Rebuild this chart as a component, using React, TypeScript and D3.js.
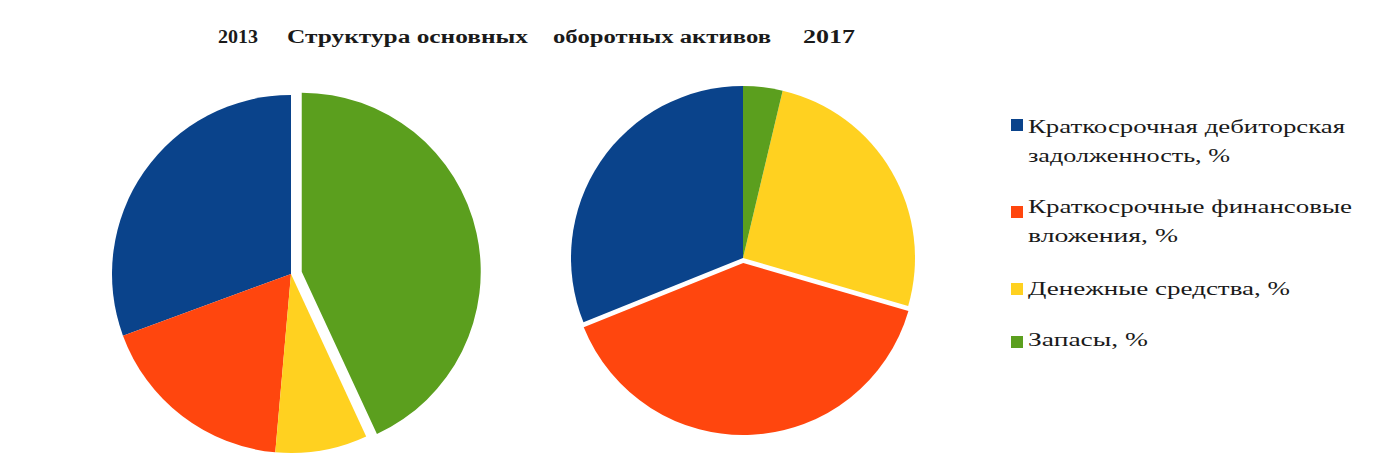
import React from "react";
import * as d3 from "d3";

const categories = [
  "Краткосрочная дебиторская задолженность, %",
  "Краткосрочные финансовые вложения, %",
  "Денежные средства, %",
  "Запасы, %",
];
const legendLines = [
  ["Краткосрочная дебиторская", "задолженность, %"],
  ["Краткосрочные финансовые", "вложения, %"],
  ["Денежные средства, %"],
  ["Запасы, %"],
];
const values2013 = [30.6, 18.0, 8.3, 43.1];
const values2017 = [31.1, 39.4, 25.8, 3.7];
const colors = ["#0A438B", "#FF460E", "#FFD120", "#5B9F1E"];
const exploded2013 = [0, 0, 0, 11];
const exploded2017 = [0, 5, 0, 0];

const W = 1373;
const H = 475;
const FONT = "Liberation Serif";

function Pie({ values, cx, cy, r, explode }: { values: number[]; cx: number; cy: number; r: number; explode: number[] }) {
  const pie = d3
    .pie<number>()
    .sort(null)
    .startAngle(2 * Math.PI)
    .endAngle(0);
  const arcs = pie(values);
  const arc = d3.arc<d3.PieArcDatum<number>>().innerRadius(0).outerRadius(r);
  return (
    <g transform={`translate(${cx},${cy})`}>
      {arcs.map((a, i) => {
        const mid = (a.startAngle + a.endAngle) / 2;
        const off = explode[i];
        const dx = off * Math.sin(mid);
        const dy = -off * Math.cos(mid);
        return <path key={i} d={arc(a) || ""} fill={colors[i]} transform={`translate(${dx},${dy})`} />;
      })}
    </g>
  );
}

export default function App() {
  const legendY = [[133, 162], [213, 242], [295], [346]];
  const legendW = [[317, 202], [324, 150], [262], [120]];
  const squareY = [125, 212, 289, 342];
  const titleStyle = { fontFamily: FONT, fontWeight: 700, fontSize: 18 } as React.CSSProperties;
  const legStyle = { fontFamily: FONT, fontWeight: 400, fontSize: 19 } as React.CSSProperties;
  return (
    <svg width={W} height={H} style={{ position: "absolute", left: 0, top: 0, background: "#fff" }}>
      <rect x={0} y={0} width={W} height={H} fill="#fff" />
      <g fill="#1a1a1a">
        <text style={titleStyle} x={218} y={43} textLength={40} lengthAdjust="spacingAndGlyphs">2013</text>
        <text style={titleStyle} x={287} y={43} textLength={241} lengthAdjust="spacingAndGlyphs">Структура основных</text>
        <text style={titleStyle} x={553} y={43} textLength={218} lengthAdjust="spacingAndGlyphs">оборотных активов</text>
        <text style={titleStyle} x={803} y={43} textLength={52} lengthAdjust="spacingAndGlyphs">2017</text>
      </g>
      <Pie values={values2013} cx={291} cy={274} r={179} explode={exploded2013} />
      <Pie values={values2017} cx={743} cy={258} r={172} explode={exploded2017} />
      <g fill="#1a1a1a">
        {categories.map((c, i) => (
          <g key={c}>
            <rect x={1011} y={squareY[i] - 6} width={12} height={12} fill={colors[i]} />
            {legendLines[i].map((line, j) => (
              <text key={j} style={legStyle} x={1028} y={legendY[i][j]} textLength={legendW[i][j]} lengthAdjust="spacingAndGlyphs">
                {line}
              </text>
            ))}
          </g>
        ))}
      </g>
    </svg>
  );
}
